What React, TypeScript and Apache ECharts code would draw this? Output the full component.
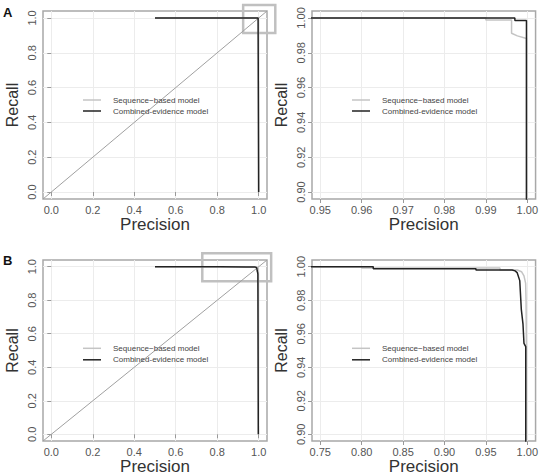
import React, { useEffect, useRef } from "react";
import * as echarts from "echarts";

// Precision (x) / Recall (y) curves
const seqA = [[0.5, 1.0], [0.99, 1.0], [0.99, 0.9989], [0.9962, 0.9989], [0.9962, 0.9912], [0.9976, 0.9897], [0.9996, 0.9884], [0.9998, 0.9884], [0.9998, 0.0]];
const combA = [[0.5, 1.0], [0.997, 1.0], [0.997, 0.9986], [0.9998, 0.9986], [0.9998, 0.0]];
const seqB = [[0.5, 1.0], [0.8, 1.0], [0.8, 0.9992], [0.967, 0.9992], [0.967, 0.998], [0.988, 0.998], [0.993, 0.997], [0.996, 0.9945], [0.998, 0.99], [0.9985, 0.98], [0.9988, 0.96], [0.999, 0.95], [0.9992, 0.0]];
const combB = [[0.5, 1.0], [0.814, 1.0], [0.814, 0.9988], [0.938, 0.9988], [0.938, 0.998], [0.9817, 0.998], [0.9853, 0.9975], [0.9877, 0.9965], [0.9909, 0.9917], [0.9928, 0.9744], [0.9948, 0.9657], [0.996, 0.9542], [0.9981, 0.9523], [0.9981, 0.0]];
const diagonal = [[-0.04, -0.04], [1.04, 1.04]];
// zoom-region outlines: [xMin, yMin, xMax, yMax]
const zoomBoxA = [0.925, 0.914, 1.08, 1.075];
const zoomBoxB = [0.728, 0.913, 1.06, 1.08];

const fullTicks = [0, 0.2, 0.4, 0.6, 0.8, 1.0];
const zoomXTicksA = [0.95, 0.96, 0.97, 0.98, 0.99, 1.0];
const zoomXTicksB = [0.75, 0.8, 0.85, 0.9, 0.95, 1.0];
const zoomYTicks = [0.9, 0.92, 0.94, 0.96, 0.98, 1.0];

const SEQ_NAME = "Sequence\u2212based model";
const COMB_NAME = "Combined-evidence model";

const FONT = "Liberation Sans, Arial, Helvetica, sans-serif";

function makeAxis(gridIndex: number, min: number, max: number, ticks: number[], digits: number, isX: boolean) {
  return {
    type: "value",
    gridIndex,
    min,
    max,
    name: isX ? "Precision" : "Recall",
    nameLocation: "middle",
    nameGap: isX ? 17 : 23,
    nameTextStyle: { fontSize: isX ? 17 : 16, color: "#333", fontFamily: FONT },
    axisLine: { show: false },
    axisTick: { show: true, inside: false, length: 4, customValues: ticks, lineStyle: { color: "#999", width: 1 } },
    axisLabel: {
      show: true,
      customValues: ticks,
      margin: isX ? 5 : 6,
      rotate: isX ? 0 : 90,
      fontSize: 11,
      color: "#555",
      fontFamily: FONT,
      formatter: (v: number) => v.toFixed(digits),
    },
    splitLine: { show: true, lineStyle: { color: "#ececec", width: 1 } },
  };
}

export default function App() {
  const ref = useRef<HTMLDivElement>(null);
  useEffect(() => {
    if (!ref.current) return;
    const chart = echarts.init(ref.current, undefined, { renderer: "svg" });
    const gridBase = { show: true, borderColor: "#a8a8a8", borderWidth: 1.5, backgroundColor: "transparent" };
    const grids = [
      { ...gridBase, left: 43, top: 11, width: 224, height: 188 },
      { ...gridBase, left: 312, top: 11, width: 224, height: 188 },
      { ...gridBase, left: 43, top: 260, width: 224, height: 187 },
      { ...gridBase, left: 312, top: 260, width: 224, height: 187 },
    ];
    const xAxes = [
      makeAxis(0, -0.04, 1.04, fullTicks, 1, true),
      makeAxis(1, 0.948, 1.002, zoomXTicksA, 2, true),
      makeAxis(2, -0.04, 1.04, fullTicks, 1, true),
      makeAxis(3, 0.74, 1.01, zoomXTicksB, 2, true),
    ];
    const yAxes = [
      makeAxis(0, -0.04, 1.04, fullTicks, 1, false),
      makeAxis(1, 0.896, 1.004, zoomYTicks, 2, false),
      makeAxis(2, -0.04, 1.04, fullTicks, 1, false),
      makeAxis(3, 0.896, 1.004, zoomYTicks, 2, false),
    ];
    const curve = (name: string, data: number[][], idx: number, color: string, width: number, z: number) => ({
      type: "line",
      name,
      xAxisIndex: idx,
      yAxisIndex: idx,
      data,
      symbol: "none",
      showSymbol: false,
      lineStyle: { color, width },
      itemStyle: { color },
      z,
      silent: true,
    });
    const diag = (idx: number) => ({
      type: "line",
      xAxisIndex: idx,
      yAxisIndex: idx,
      data: diagonal,
      symbol: "none",
      showSymbol: false,
      lineStyle: { color: "#a0a0a0", width: 1 },
      z: 2,
      silent: true,
    });
    const box = (idx: number, region: number[]) => ({
      type: "custom",
      xAxisIndex: idx,
      yAxisIndex: idx,
      clip: false,
      silent: true,
      z: 1,
      encode: { x: [0, 2], y: [1, 3] },
      data: [region],
      renderItem: (_params: any, api: any) => {
        const p0 = api.coord([api.value(0), api.value(1)]);
        const p1 = api.coord([api.value(2), api.value(3)]);
        return {
          type: "rect",
          shape: {
            x: Math.min(p0[0], p1[0]),
            y: Math.min(p0[1], p1[1]),
            width: Math.abs(p1[0] - p0[0]),
            height: Math.abs(p1[1] - p0[1]),
          },
          style: { fill: "none", stroke: "#c0c0c0", lineWidth: 2.5 },
        };
      },
    });
    const GREY = "#c4c4c4";
    const BLACK = "#222";
    const series = [
      diag(0),
      box(0, zoomBoxA),
      curve(SEQ_NAME, seqA, 0, GREY, 1.5, 3),
      curve(COMB_NAME, combA, 0, BLACK, 1.5, 4),
      curve(SEQ_NAME, seqA, 1, GREY, 1.5, 3),
      curve(COMB_NAME, combA, 1, BLACK, 1.5, 4),
      diag(2),
      box(2, zoomBoxB),
      curve(SEQ_NAME, seqB, 2, GREY, 1.5, 3),
      curve(COMB_NAME, combB, 2, BLACK, 1.5, 4),
      curve(SEQ_NAME, seqB, 3, GREY, 1.5, 3),
      curve(COMB_NAME, combB, 3, BLACK, 1.5, 4),
    ];
    const legendAt = (left: number, top: number, gap: number) => ({
      show: true,
      orient: "vertical",
      left,
      top,
      padding: 0,
      data: [SEQ_NAME, COMB_NAME],
      icon: "rect",
      itemWidth: 18,
      itemHeight: 1.5,
      itemGap: gap,
      selectedMode: false,
      textStyle: { fontSize: 8, lineHeight: 11, color: "#444", fontFamily: FONT, padding: [0, 0, 0, 7] },
    });
    chart.setOption({
      animation: false,
      backgroundColor: "#fff",
      grid: grids,
      xAxis: xAxes,
      yAxis: yAxes,
      series,
      legend: [legendAt(83, 94.5, 0), legendAt(352, 94.5, 0), legendAt(83, 342.8, 0.5), legendAt(352, 342.8, 0.5)],
      graphic: [
        { type: "text", left: 3, top: 6, style: { text: "A", fontSize: 13, fontWeight: "bold", fill: "#111", fontFamily: FONT } },
        { type: "text", left: 3, top: 254, style: { text: "B", fontSize: 13, fontWeight: "bold", fill: "#111", fontFamily: FONT } },
      ],
    });
    return () => chart.dispose();
  }, []);
  return <div ref={ref} style={{ position: "fixed", left: 0, top: 0, width: 541, height: 476 }} />;
}
